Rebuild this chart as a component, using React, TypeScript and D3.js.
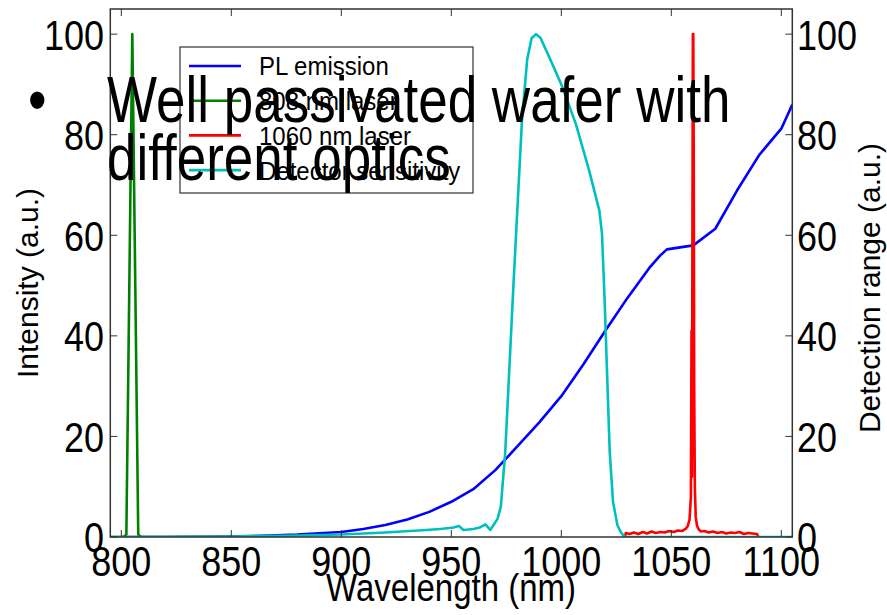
import React from "react";
import * as d3 from "d3";

const xTicks = [800, 850, 900, 950, 1000, 1050, 1100];
const yTicks = [0, 20, 40, 60, 80, 100];

const blueX = [800, 820, 840, 860, 880, 900, 910, 920, 930, 940, 950, 960, 970, 980, 990, 1000, 1010, 1020, 1030, 1040, 1045, 1048, 1060, 1070, 1080, 1090, 1100, 1105];
const blueY = [0, 0, 0.05, 0.2, 0.5, 1.0, 1.6, 2.4, 3.5, 5.0, 7.0, 9.5, 13.3, 18.0, 22.8, 28.0, 34.3, 41.0, 47.5, 53.5, 56.0, 57.2, 58.0, 61.3, 69.0, 76.0, 81.2, 86.0];

const greenX = [795, 801, 802.3, 805, 807.7, 809, 850];
const greenY = [0, 0, 0.5, 100, 0.5, 0, 0];

const redX = [1029, 1029.3, 1031, 1033, 1035, 1037, 1039, 1041, 1043, 1045, 1047, 1049, 1051, 1053, 1055, 1056.5, 1057.5, 1058.3, 1058.9, 1059.2, 1059.4, 1059.6, 1059.8, 1060.0, 1060.2, 1060.4, 1060.7, 1061.1, 1061.7, 1062.5, 1063.5, 1065, 1067, 1069, 1071, 1073, 1075, 1077, 1079, 1081, 1083, 1085, 1087, 1089, 1089.5];
const redY = [0, 0.8, 0.6, 0.9, 0.6, 1.0, 0.7, 1.1, 0.8, 1.0, 0.9, 1.2, 1.0, 1.3, 1.2, 1.6, 2.2, 3.5, 8, 41, 12, 60, 100, 100, 75, 30, 10, 4, 2.2, 1.5, 1.1, 1.2, 0.9, 1.1, 0.8, 1.0, 0.7, 0.9, 0.8, 1.0, 0.6, 0.8, 0.7, 0.6, 0];

const cyanX = [795, 820, 850, 880, 900, 920, 935, 945, 951, 953.5, 955.5, 960, 963, 965.5, 967.7, 969.5, 971, 972.5, 974.5, 978.2, 982.1, 984.5, 986.5, 988.5, 990.5, 993.3, 997, 1000.6, 1006.7, 1012.7, 1017.3, 1018.5, 1019.7, 1021, 1022, 1023.5, 1025.5, 1027, 1028.8, 1035, 1105];
const cyanY = [0, 0, 0.1, 0.3, 0.5, 0.9, 1.3, 1.6, 1.9, 2.2, 1.4, 1.6, 1.9, 2.5, 1.4, 2.6, 3.6, 6, 16.7, 49.7, 82.7, 95, 99.2, 100, 99.3, 96.6, 93, 89.4, 82, 72.8, 64.9, 60.3, 47, 30, 17, 7, 2.4, 1.0, 0, 0, 0];

const seriesNames = ["PL emission", "808 nm laser", "1060 nm laser", "Detector sensitivity"];
const seriesColors = ["#0000ff", "#008000", "#ff0000", "#00bfbf"];

const FONT = "'Liberation Sans', Arial, sans-serif";

export default function App() {
  const W = 887, H = 615;
  const x0 = 110.3, x1 = 792.3, y0 = 9, y1 = 537;
  const x = d3.scaleLinear().domain([795, 1105]).range([x0, x1]);
  const y = d3.scaleLinear().domain([0, 105]).range([y1, y0]);
  const line = (xs: number[], ys: number[]) =>
    d3.line<number>().x((_, i) => x(xs[i])).y((_, i) => y(ys[i]))(xs) || "";

  const series = [
    { xs: blueX, ys: blueY },
    { xs: greenX, ys: greenY },
    { xs: redX, ys: redY },
    { xs: cyanX, ys: cyanY },
  ];

  const tickF = 36, tickSY = 1.2;
  const tl = 7;
  const axisColor = "#333";

  return (
    <svg width={W} height={H} style={{ position: "absolute", left: 0, top: 0, background: "#fff" }} fontFamily={FONT}>
      <defs>
        <clipPath id="plot">
          <rect x={x0} y={y0} width={x1 - x0} height={y1 - y0} />
        </clipPath>
      </defs>
      <rect x={0} y={0} width={W} height={H} fill="#fff" />
      <g clipPath="url(#plot)">
        {series.map((s, i) => (
          <path key={i} d={line(s.xs, s.ys)} fill="none" stroke={seriesColors[i]} strokeWidth={2.6} strokeLinejoin="round" />
        ))}
      </g>
      {/* frame */}
      <rect x={x0} y={y0} width={x1 - x0} height={y1 - y0} fill="none" stroke={axisColor} strokeWidth={1.5} />
      {/* x ticks */}
      {xTicks.map((t) => (
        <g key={"xt" + t}>
          <line x1={x(t)} x2={x(t)} y1={y1} y2={y1 - tl} stroke={axisColor} strokeWidth={1} />
          <line x1={x(t)} x2={x(t)} y1={y0} y2={y0 + tl} stroke={axisColor} strokeWidth={1} />
          <text transform={`translate(${x(t)},576) scale(1,${tickSY})`} textAnchor="middle" fontSize={tickF} fill="#000">{t}</text>
        </g>
      ))}
      {/* y ticks */}
      {yTicks.map((t) => (
        <g key={"yt" + t}>
          <line x1={x0} x2={x0 + tl} y1={y(t)} y2={y(t)} stroke={axisColor} strokeWidth={1} />
          <line x1={x1} x2={x1 - tl} y1={y(t)} y2={y(t)} stroke={axisColor} strokeWidth={1} />
          <text transform={`translate(104,${y(t)}) scale(1,${tickSY})`} y={0.358 * tickF} textAnchor="end" fontSize={tickF} fill="#000">{t}</text>
          <text transform={`translate(797,${y(t)}) scale(1,${tickSY})`} y={0.358 * tickF} textAnchor="start" fontSize={tickF} fill="#000">{t}</text>
        </g>
      ))}
      {/* axis labels */}
      <text transform={`translate(451,601) scale(1,1.2)`} textAnchor="middle" fontSize={33} fill="#000">Wavelength (nm)</text>
      <text transform={`translate(37.5,283) rotate(-90)`} textAnchor="middle" fontSize={30} fill="#000">Intensity (a.u.)</text>
      <text transform={`translate(880,288) rotate(-90)`} textAnchor="middle" fontSize={30} fill="#000">Detection range (a.u.)</text>
      {/* legend */}
      <rect x={180} y={47} width={293} height={146} fill="#fff" stroke={axisColor} strokeWidth={1.2} />
      {seriesNames.map((n, i) => {
        const cy = 66 + i * 34.7;
        return (
          <g key={n}>
            <line x1={189} x2={241} y1={cy} y2={cy} stroke={seriesColors[i]} strokeWidth={2.6} />
            <text transform={`translate(259,${cy}) scale(1,1.1)`} y={0.358 * 24} fontSize={24} fill="#000">{n}</text>
          </g>
        );
      })}
      {/* overlay slide text */}
      <g fontSize={53} fill="#000">
        <text transform={`translate(28,122) scale(1,1.22)`}>•</text>
        <text transform={`translate(107,122) scale(1,1.22)`}>Well passivated wafer with</text>
        <text transform={`translate(107,180) scale(1,1.22)`}>different optics</text>
      </g>
    </svg>
  );
}
